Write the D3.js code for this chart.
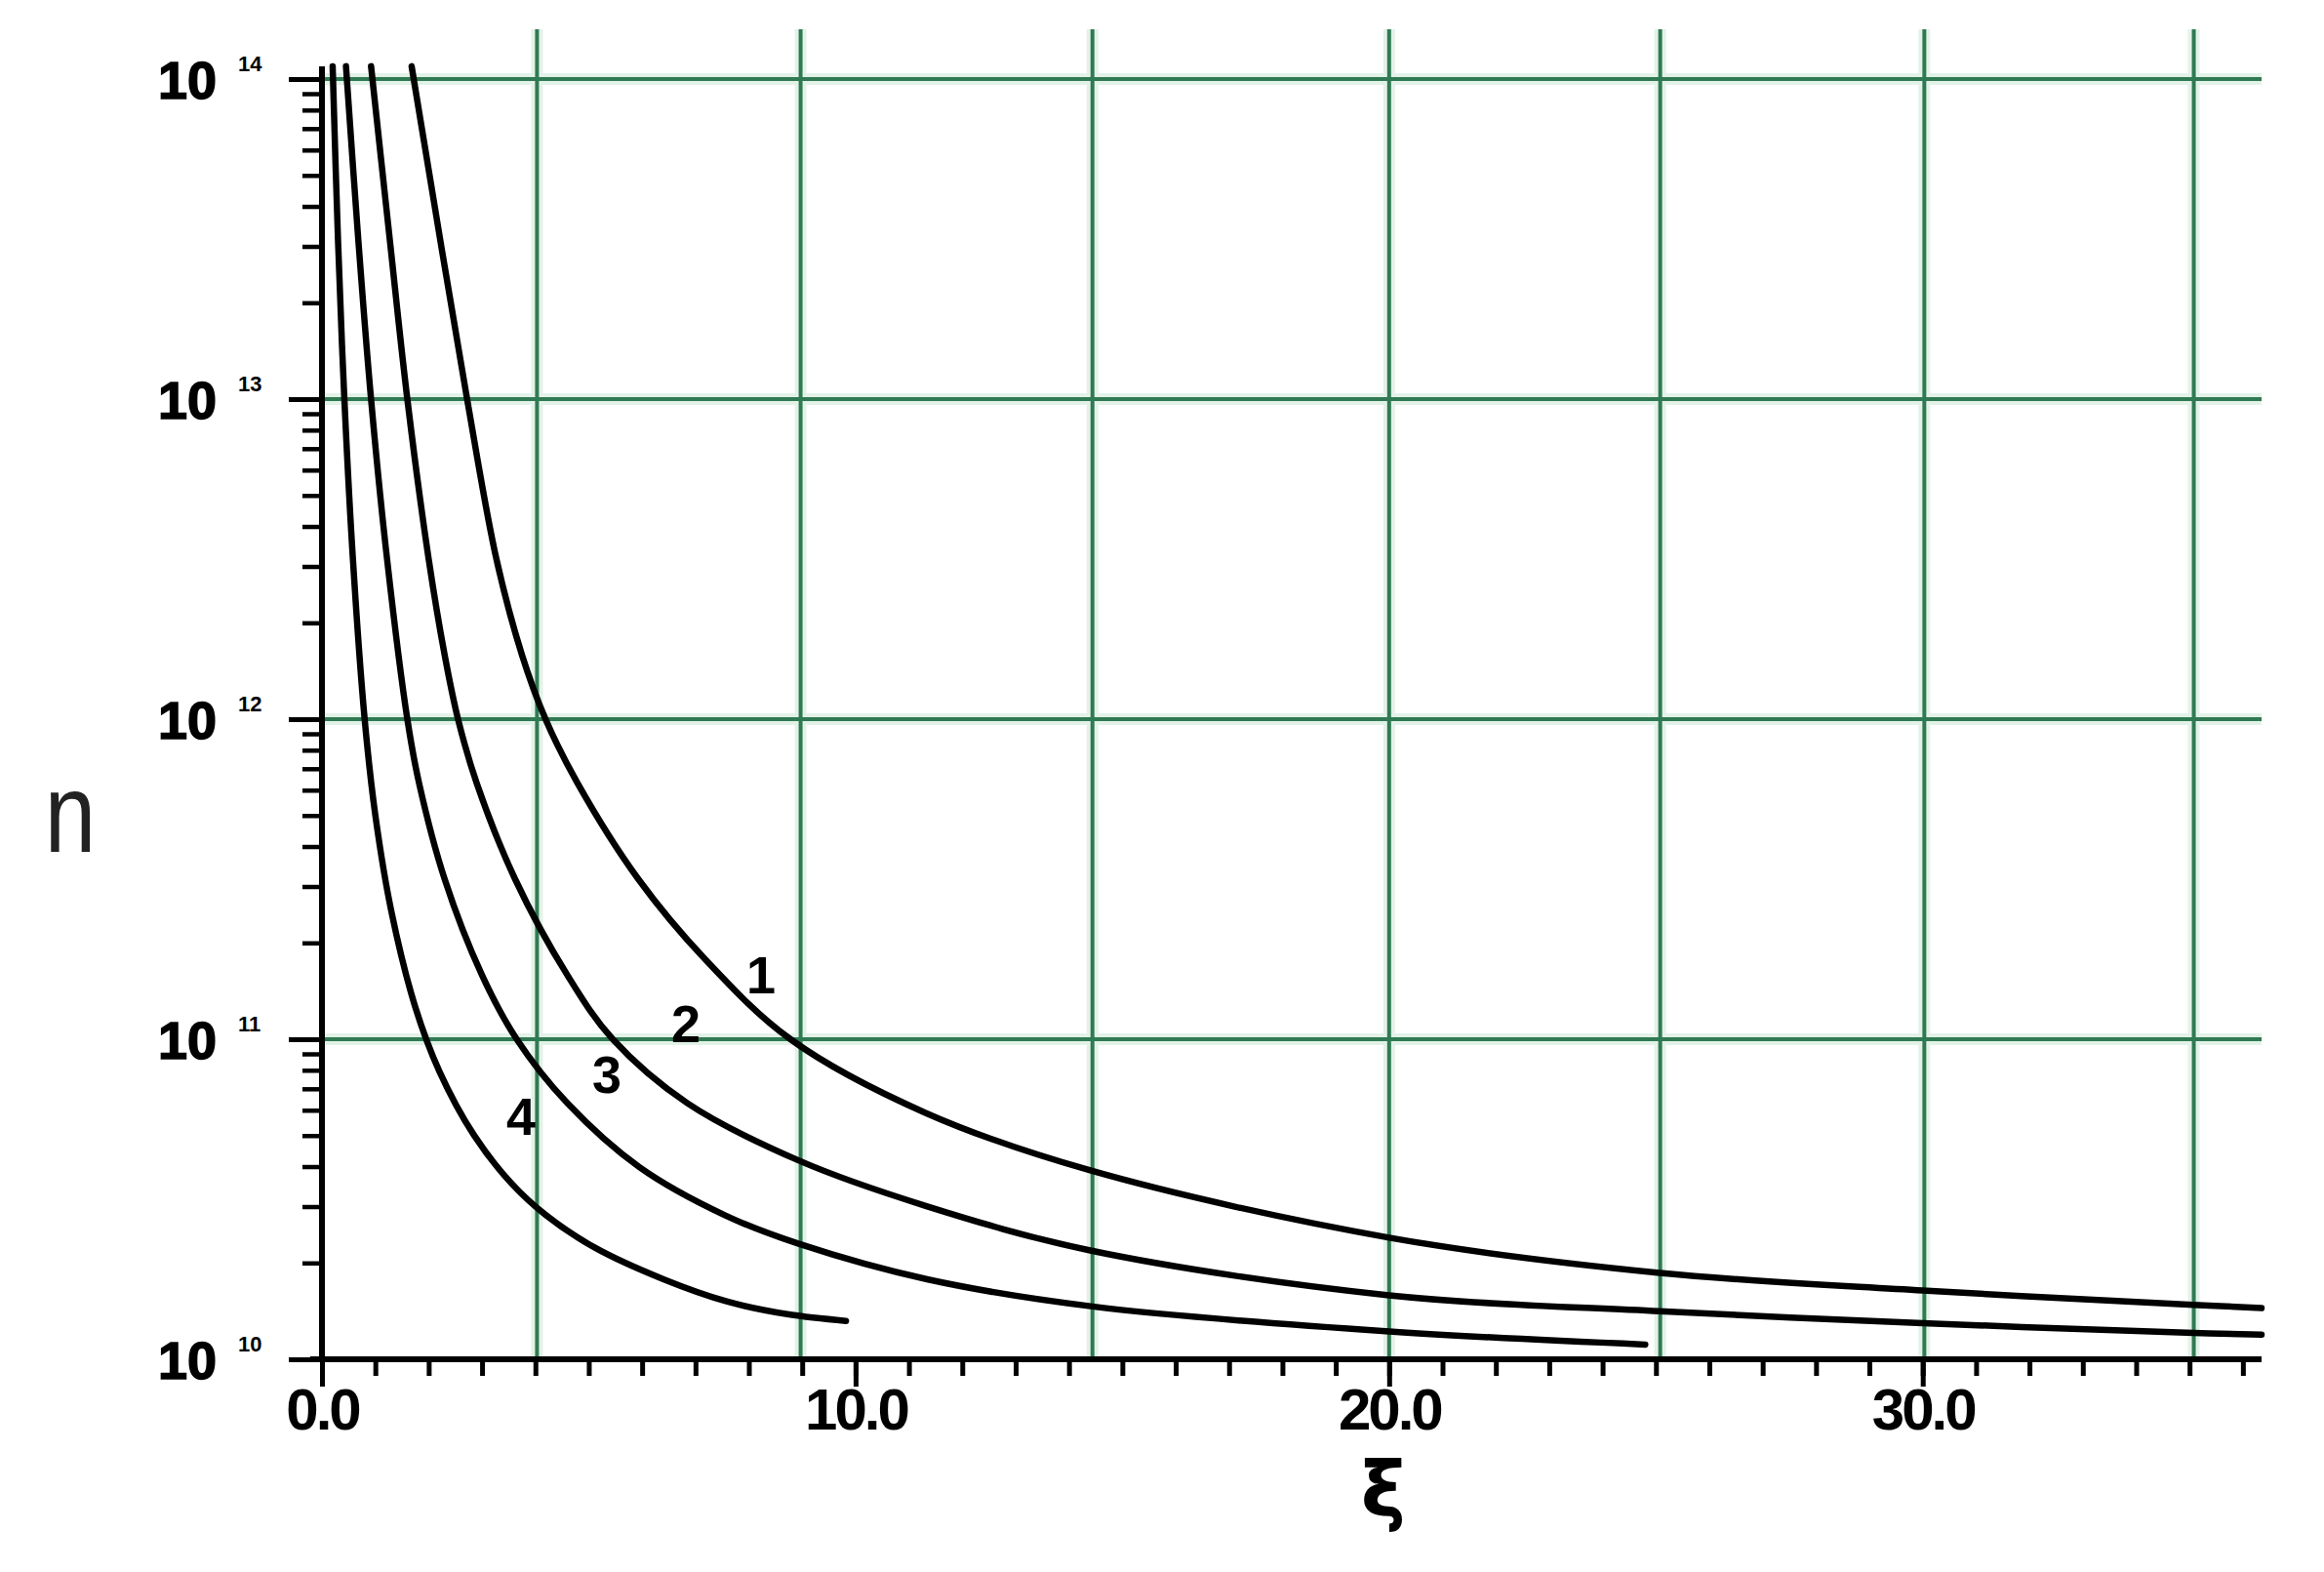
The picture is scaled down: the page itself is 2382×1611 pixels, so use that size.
<!DOCTYPE html>
<html lang="en">
<head>
  <meta charset="utf-8">
  <title>n vs xi</title>
  <script src="https://d3js.org/d3.v7.min.js"></script>
  <style>
    body { margin: 0; background: #fff; }
    text { font-family: 'Liberation Sans', Arial, sans-serif; }
  </style>
</head>
<body>
<svg width="2382" height="1611"></svg>
<script>
// values: xi and log10(n) for each curve
var xi1 = [1.68, 2.72, 3.27, 3.75, 4.19, 4.79, 5.93, 7.18, 8.78, 11.31, 14.4, 20.0, 25.07, 30.0, 35.08, 36.35];
var lg1 = [14.04, 13.0, 12.5, 12.2, 12.0, 11.8, 11.5, 11.25, 11.0, 10.77, 10.59, 10.38, 10.27, 10.215, 10.17, 10.16];

var xi2 = [0.92, 1.27, 1.6, 2.0, 2.3, 2.55, 2.9, 3.62, 4.6, 5.45, 6.85, 8.95, 11.3, 14.4, 20.0, 25.07, 30.0, 35.08, 36.35];
var lg2 = [14.04, 13.5, 13.0, 12.5, 12.2, 12.0, 11.8, 11.5, 11.2, 11.0, 10.8, 10.62, 10.48, 10.34, 10.2, 10.15, 10.113, 10.082, 10.077];

var xi3 = [0.45, 0.68, 0.92, 1.22, 1.6, 1.82, 2.3, 3.0, 3.65, 4.6, 5.95, 7.55, 8.95, 11.34, 14.44, 20.0, 24.8];
var lg3 = [14.04, 13.5, 13.0, 12.5, 12.0, 11.8, 11.5, 11.2, 11.0, 10.8, 10.6, 10.45, 10.36, 10.25, 10.165, 10.087, 10.046];

var xi4 = [0.2, 0.3, 0.42, 0.58, 0.8, 1.0, 1.3, 1.75, 2.2, 2.85, 3.55, 4.2, 5.1, 6.4, 7.6, 8.75, 9.82];
var lg4 = [14.04, 13.5, 13.0, 12.5, 12.0, 11.7, 11.4, 11.1, 10.9, 10.7, 10.55, 10.45, 10.35, 10.25, 10.18, 10.14, 10.12];

var curveNames = ['1', '2', '3', '4'];
var labelXi = [8.23, 6.82, 5.34, 3.73];
var labelLg = [11.2, 11.05, 10.89, 10.76];

var gridXi = [4.03, 8.97, 14.44, 20.0, 25.08, 30.03, 35.08];
var gridN = [1e11, 1e12, 1e13, 1e14];
var decades = [1e10, 1e11, 1e12, 1e13, 1e14];
var decadeExp = ['10', '11', '12', '13', '14'];
var xMajor = [0, 10, 20, 30];

var svg = d3.select('svg');
var x = d3.scaleLinear().domain([0, 36.35]).range([330, 2318]);
var y = d3.scaleLog().domain([1e10, 1e14]).range([1393, 81]);

// green grid, soft halo first then the line
[{w: 12, c: '#e3f2e8'}, {w: 4, c: '#2f7a52'}].forEach(function(s) {
  svg.append('g').selectAll('line.v').data(gridXi).enter().append('line')
    .attr('x1', function(d) { return x(d); }).attr('x2', function(d) { return x(d); })
    .attr('y1', 30).attr('y2', y(1e10))
    .style('stroke', s.c).style('stroke-width', s.w);
  svg.append('g').selectAll('line.h').data(gridN).enter().append('line')
    .attr('x1', x(0)).attr('x2', x(36.35))
    .attr('y1', function(d) { return y(d); }).attr('y2', function(d) { return y(d); })
    .style('stroke', s.c).style('stroke-width', s.w);
});

// curves
var series = [[xi1, lg1], [xi2, lg2], [xi3, lg3], [xi4, lg4]];
var line = d3.line()
  .x(function(d) { return x(d[0]); })
  .y(function(d) { return y(Math.pow(10, d[1])); })
  .curve(d3.curveCatmullRom.alpha(0.5));

svg.append('g').selectAll('path').data(series).enter().append('path')
  .attr('d', function(s) { return line(d3.zip(s[0], s[1])); })
  .style('fill', 'none').style('stroke', '#000').style('stroke-width', 6.5)
  .style('stroke-linecap', 'round');

// y axis: minor ticks, then major ticks with the axis line
var minors = y.ticks().filter(function(v) { return decades.indexOf(v) < 0; });
svg.append('g').attr('transform', 'translate(' + x(0) + ',0)')
  .call(d3.axisLeft(y).tickValues(minors).tickSize(20).tickFormat(''))
  .call(function(g) { g.select('.domain').remove(); })
  .selectAll('line').style('stroke', '#000').style('stroke-width', 4.5);

var yAx = svg.append('g').attr('transform', 'translate(' + x(0) + ',0)')
  .call(d3.axisLeft(y).tickValues(decades).tickSize(34).tickSizeOuter(0).tickFormat(''));
yAx.select('.domain').attr('d', 'M0,' + y(1e10) + 'V68').style('stroke', '#000').style('stroke-width', 6);
yAx.selectAll('line').style('stroke', '#000').style('stroke-width', 5);

// y labels 10^k
var yl = svg.append('g').selectAll('g').data(decades).enter().append('g');
yl.append('text')
  .attr('x', 222).attr('y', function(d) { return y(d) + 20; })
  .attr('text-anchor', 'end').style('font-size', '54px').style('font-weight', 'bold')
  .style('stroke', '#000').style('stroke-width', 1.5)
  .text('10');
yl.append('text')
  .attr('x', 244).attr('y', function(d) { return y(d) - 8; })
  .style('font-size', '22px').style('font-weight', 'bold')
  .text(function(d, i) { return decadeExp[i]; });

// x axis: minor ticks every 1, major at 10s
svg.append('g').attr('transform', 'translate(0,' + y(1e10) + ')')
  .call(d3.axisBottom(x).tickValues(d3.range(0, 37)).tickSize(17).tickFormat(''))
  .call(function(g) { g.select('.domain').remove(); })
  .selectAll('line').style('stroke', '#000').style('stroke-width', 5);

var xAx = svg.append('g').attr('transform', 'translate(0,' + y(1e10) + ')')
  .call(d3.axisBottom(x).tickValues(xMajor).tickSize(28).tickSizeOuter(0).tickPadding(1)
    .tickFormat(d3.format('.1f')));
xAx.select('.domain').attr('d', 'M' + (x(0) - 12) + ',0H' + x(36.35)).style('stroke', '#000').style('stroke-width', 6);
xAx.selectAll('line').style('stroke', '#000').style('stroke-width', 5);
xAx.selectAll('text')
  .style('font-size', '60px').style('font-weight', 'bold').style('fill', '#000')
  .style('font-family', "'Liberation Sans', Arial, sans-serif")
  .style('letter-spacing', '-3px');

// curve numbers
svg.append('g').selectAll('text').data(curveNames).enter().append('text')
  .attr('x', function(d, i) { return x(labelXi[i]); })
  .attr('y', function(d, i) { return y(Math.pow(10, labelLg[i])); })
  .attr('text-anchor', 'middle').attr('dominant-baseline', 'central')
  .style('font-size', '54px').style('font-weight', 'bold')
  .text(function(d) { return d; });

// axis titles
svg.append('text')
  .attr('transform', 'translate(72,873) scale(0.82,1)')
  .attr('text-anchor', 'middle')
  .style('font-size', '115px').style('fill', '#222')
  .text('n');

svg.append('text')
  .attr('x', x(20) - 6).attr('y', 1554)
  .attr('text-anchor', 'middle')
  .style('font-family', "'DejaVu Sans', sans-serif")
  .style('font-size', '78px').style('font-weight', 'bold')
  .text('ξ');
</script>
</body>
</html>
